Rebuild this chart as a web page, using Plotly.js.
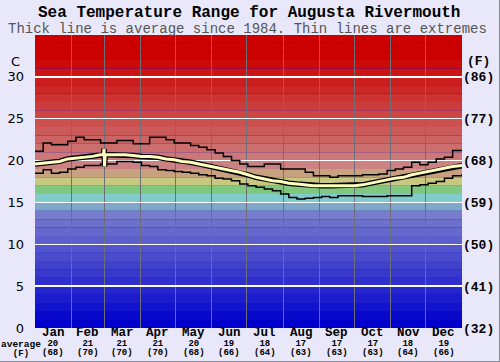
<!DOCTYPE html>
<html>
<head>
<meta charset="utf-8">
<script src="https://cdn.plot.ly/plotly-3.0.1.min.js"></script>
<style>
html,body{margin:0;padding:0;background:#e8e8fa;}
#wrap{width:500px;height:362px;box-sizing:border-box;border-right:1px solid #8a8a9a;border-bottom:1px solid #8a8a9a;background:#e8e8fa;}
#chart{width:499px;height:361px;}
</style>
</head>
<body>
<div id="wrap"><div id="chart"></div></div>
<script>
// ---- data ----
const monthNames = ['Jan','Feb','Mar','Apr','May','Jun','Jul','Aug','Sep','Oct','Nov','Dec'];
const monthStartDay = [0,31,59,90,120,151,181,212,243,273,304,334,365];
const monthAvgC = ['20','21','21','21','20','19','18','17','17','17','18','19'];
const monthAvgF = ['(68)','(70)','(70)','(70)','(68)','(66)','(64)','(63)','(63)','(63)','(64)','(66)'];
const yTicksC = [0,5,10,15,20,25,30];
const yTicksF = ['(32)','(41)','(50)','(59)','(68)','(77)','(86)'];

const weekDay = [0,7,14,21,28,35,42,49,56,63,70,77,84,91,98,105,112,119,126,133,140,147,154,161,168,175,182,189,196,203,210,217,224,231,238,245,252,259,266,273,280,287,294,301,308,315,322,329,336,343,350,357,365];
const maxC = [21.1,22.1,21.9,21.9,22.3,22.8,22.5,22.5,22.1,22.1,22.4,22.4,22.0,22.0,22.8,22.8,22.5,22.1,22.1,21.8,21.6,21.3,20.9,20.5,20.0,19.6,19.3,19.3,19.6,19.6,19.0,19.0,19.0,18.6,18.2,18.2,18.0,18.2,18.2,18.2,18.3,18.3,18.4,18.8,19.0,19.2,19.8,19.5,19.8,20.2,20.4,21.2,21.2];
const minC = [18.5,18.9,18.5,18.6,19.0,19.2,19.4,19.4,19.6,19.6,19.9,19.9,19.8,19.4,19.3,18.9,18.8,18.7,18.6,18.5,18.3,18.2,17.9,17.8,17.6,17.2,17.0,16.8,16.6,16.4,16.0,15.6,15.4,15.5,15.6,15.7,15.6,15.8,15.8,15.8,15.7,15.7,15.7,15.8,15.8,15.8,17.0,17.1,17.3,17.5,17.9,18.2,18.4];
const avgDay = [0,7,14,21,28,35,42,49,56,58.5,59,59.5,60,63,70,77,84,91,98,105,112,119,126,133,140,147,154,161,168,175,182,189,196,203,210,217,224,231,238,245,252,259,266,273,280,287,294,301,308,315,322,329,336,343,350,357,365];
const avgC = [19.6,19.7,19.8,19.9,20.2,20.3,20.4,20.5,20.7,20.7,21.4,19.3,20.7,20.7,20.7,20.7,20.6,20.5,20.5,20.4,20.2,20.1,19.9,19.8,19.6,19.4,19.2,19.0,18.8,18.6,18.3,18.0,17.8,17.6,17.5,17.3,17.2,17.1,17.0,17.0,17.0,17.0,17.0,17.0,17.1,17.3,17.5,17.7,17.9,18.0,18.3,18.5,18.7,18.9,19.1,19.3,19.4];

// ---- style helpers ----
function bandColor(t){
  if (t < 14){ const v = Math.round(t*9.2); return 'rgb('+v+','+Math.round(v*1.03)+',204)'; }
  if (t === 14) return 'rgb(128,166,200)';
  if (t === 15) return 'rgb(128,204,204)';
  if (t === 16) return 'rgb(128,200,128)';
  if (t === 17) return 'rgb(200,200,128)';
  if (t === 18) return 'rgb(200,162,128)';
  const k = Math.min(1, (t-19)/13);
  const g = Math.round(130*(1-k));
  return 'rgb(204,'+g+','+g+')';
}

const shapes = [];
for (let t = 0; t < 35; t++){
  shapes.push({type:'rect', xref:'paper', yref:'y', x0:0, x1:1, y0:t, y1:t+1,
    fillcolor:bandColor(t), line:{width:0}, layer:'below'});
}

const mono = 'Liberation Mono, Courier New, monospace';
function sp(txt, size){ return '<span style="font-size:'+size+'px"><b>'+txt+'</b></span>'; }

const annotations = [];
annotations.push({xref:'paper', yref:'paper', x:0.5, y:1, yshift:22, yanchor:'middle', xanchor:'center', showarrow:false, borderpad:0,
  text:'Sea Temperature Range for Augusta Rivermouth', font:{family:mono, size:16, color:'#000', weight:'bold'}});
annotations.push({xref:'paper', yref:'paper', x:0.497, y:1, yshift:6, yanchor:'middle', xanchor:'center', showarrow:false, borderpad:0,
  text:'Thick line is average since 1984. Thin lines are extremes', font:{family:mono, size:14, color:'#555'}});
for (let i = 0; i < 12; i++){
  const mid = (monthStartDay[i] + monthStartDay[i+1]) / 2;
  annotations.push({xref:'x', yref:'paper', x:mid, y:0, yshift:-4.5, xanchor:'center', yanchor:'middle', showarrow:false, borderpad:0,
    text: monthNames[i], font:{family:mono, size:12.5, color:'#000', weight:'bold'}});
  annotations.push({xref:'x', yref:'paper', x:mid, y:0, yshift:-10, xanchor:'center', yanchor:'top', showarrow:false, borderpad:0,
    text: sp(monthAvgC[i],9) + '<br>' + sp(monthAvgF[i],9),
    font:{family:mono, size:6.9, color:'#000'}});
}
annotations.push({xref:'paper', yref:'paper', x:-0.0328, y:0, yshift:-10, xanchor:'center', yanchor:'top', align:'center',
  showarrow:false, borderpad:0,
  text: sp('average',9.5) + '<br>' + sp('(F)',9), font:{family:mono, size:6.9, color:'#000'}});
annotations.push({xref:'paper', yref:'paper', x:-0.03, y:0.911, xanchor:'right', yanchor:'middle', showarrow:false,
  text:'C', font:{family:'DejaVu Sans, sans-serif', size:13, color:'#000'}});
annotations.push({xref:'paper', yref:'paper', x:1.007, y:0.911, xanchor:'left', yanchor:'middle', showarrow:false,
  text:'(F)', font:{family:mono, size:13, color:'#000', weight:'bold'}});

const traces = [
  {x:weekDay, y:maxC, type:'scatter', mode:'lines', line:{color:'#000', width:1.5, shape:'hv'}, hoverinfo:'skip'},
  {x:weekDay, y:minC, type:'scatter', mode:'lines', line:{color:'#000', width:1.5, shape:'hv'}, hoverinfo:'skip'},
  {x:avgDay, y:avgC, type:'scatter', mode:'lines', line:{color:'#000', width:5.5}, hoverinfo:'skip'},
  {x:avgDay, y:avgC, type:'scatter', mode:'lines', line:{color:'#ffffc0', width:3}, hoverinfo:'skip'},
  {x:[null], y:[null], yaxis:'y2', type:'scatter', mode:'lines', hoverinfo:'skip'}
];

const layout = {
  width:499, height:361,
  margin:{l:35, r:37, t:35, b:33},
  paper_bgcolor:'#e8e8fa', plot_bgcolor:'#0000cc',
  showlegend:false,
  xaxis:{range:[0,365], showticklabels:false, ticks:'', showgrid:false, zeroline:false,
    showline:false,
    minor:{tickmode:'array', tickvals:monthStartDay, showgrid:true, gridcolor:'#6e6e78', gridwidth:1, ticks:''}},
  yaxis:{range:[0,35], tickmode:'array', tickvals:yTicksC, ticktext:yTicksC.map(String), ticks:'',
    showgrid:true, gridcolor:'#ffffff', gridwidth:1.5, zeroline:false, ticklabelstandoff:10,
    tickfont:{family:'DejaVu Sans, sans-serif', size:13, color:'#000'}},
  yaxis2:{range:[0,35], overlaying:'y', side:'right', tickmode:'array', tickvals:yTicksC, ticktext:yTicksF,
    ticks:'', showgrid:false, zeroline:false,
    tickfont:{family:mono, size:13, color:'#000', weight:'bold'}},
  shapes:shapes,
  annotations:annotations
};

Plotly.newPlot('chart', traces, layout, {staticPlot:true, displayModeBar:false});
</script>
</body>
</html>
